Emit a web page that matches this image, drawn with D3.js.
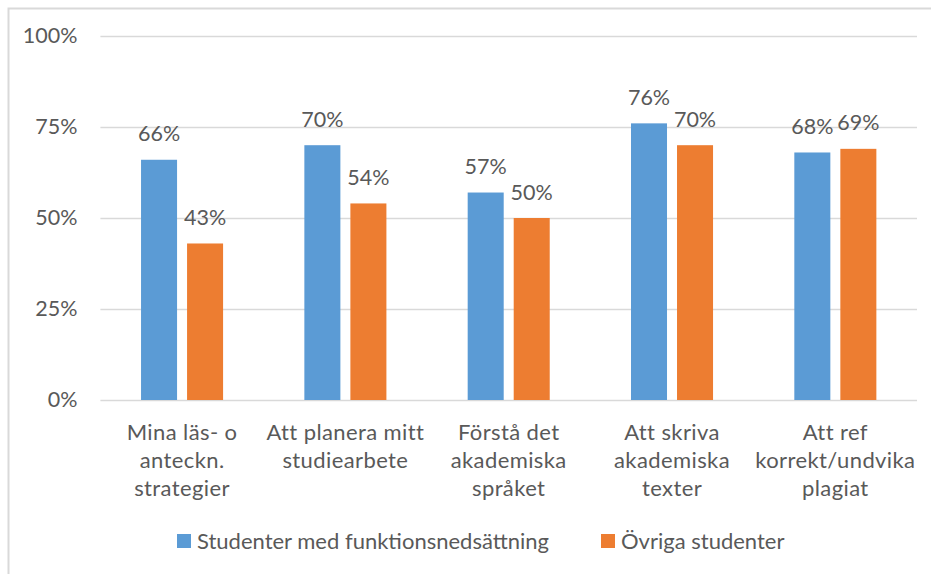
<!DOCTYPE html>
<html>
<head>
<meta charset="utf-8">
<script src="https://cdn.jsdelivr.net/npm/d3@7"></script>
<style>
  html, body { margin: 0; padding: 0; background: #fff; }
  svg { display: block; font-family: "Lato", "Open Sans", sans-serif; }
</style>
</head>
<body>
<svg id="chart" width="931" height="574"></svg>
<script>
// Kategorier (radbrytningar markerade med \n)
const categories = [
  "Mina läs- o\nanteckn.\nstrategier",
  "Att planera mitt\nstudiearbete",
  "Förstå det\nakademiska\nspråket",
  "Att skriva\nakademiska\ntexter",
  "Att ref\nkorrekt/undvika\nplagiat"
];
const seriesNames = ["Studenter med funktionsnedsättning", "Övriga studenter"];
const seriesColors = ["#5B9BD5", "#ED7D31"];
const withDisability = [0.66, 0.70, 0.57, 0.76, 0.68];
const otherStudents  = [0.43, 0.54, 0.50, 0.70, 0.69];
const yTicks = [0, 0.25, 0.5, 0.75, 1];

const svg = d3.select("#chart");
const textColor = "#595959";
const fontSize = 22;
const numSize = 21.5;

// Ram runt diagramytan
svg.append("rect")
  .attr("x", 8.5).attr("y", 8.5)
  .attr("width", 940).attr("height", 600)
  .attr("fill", "none").attr("stroke", "#d9d9d9").attr("stroke-width", 2);

const plotLeft = 100.4, plotRight = 917, plotTop = 36, plotBottom = 400;

const x = d3.scaleBand().domain(categories).range([plotLeft, plotRight]).paddingInner(0).paddingOuter(0);
const xInner = d3.scaleBand().domain(seriesNames)
  .range([0, x.bandwidth()]).paddingInner(10 / 46).paddingOuter(0.883);
const y = d3.scaleLinear().domain([0, 1]).range([plotBottom, plotTop]);

// Stödlinjer och y-axelns etiketter
const yAxis = d3.axisLeft(y).tickValues(yTicks).tickFormat(d3.format(".0%"))
  .tickSize(-(plotRight - plotLeft)).tickPadding(23);
const gy = svg.append("g").attr("transform", `translate(${plotLeft},0)`).call(yAxis);
gy.select(".domain").remove();
gy.selectAll(".tick line").attr("stroke", "#d9d9d9").attr("stroke-width", 1.5);
gy.selectAll(".tick text")
  .attr("fill", textColor).attr("font-size", numSize)
  .attr("font-family", "Lato, 'Open Sans', sans-serif");

// Staplar
const data = categories.map((c, i) => ({
  cat: c,
  vals: [
    { s: seriesNames[0], v: withDisability[i], color: seriesColors[0] },
    { s: seriesNames[1], v: otherStudents[i], color: seriesColors[1] }
  ]
}));

const groups = svg.append("g").selectAll("g").data(data).join("g")
  .attr("transform", d => `translate(${x(d.cat)},0)`);

groups.selectAll("rect").data(d => d.vals).join("rect")
  .attr("x", d => xInner(d.s))
  .attr("width", xInner.bandwidth())
  .attr("y", d => y(d.v))
  .attr("height", d => y(0) - y(d.v))
  .attr("fill", d => d.color);

// Värdeetiketter
groups.selectAll("text.val").data(d => d.vals).join("text")
  .attr("class", "val")
  .attr("x", d => xInner(d.s) + xInner.bandwidth() / 2)
  .attr("y", d => y(d.v) - 18.5)
  .attr("text-anchor", "middle")
  .attr("fill", textColor).attr("font-size", numSize)
  .text(d => d3.format(".0%")(d.v));

// Kategorietiketter
const catLabels = svg.append("g").selectAll("text").data(categories).join("text")
  .attr("x", d => x(d) + x.bandwidth() / 2)
  .attr("y", 440)
  .attr("text-anchor", "middle")
  .attr("letter-spacing", 0.4)
  .attr("fill", textColor).attr("font-size", fontSize);
catLabels.each(function(d) {
  d.split("\n").forEach((line, i) => {
    d3.select(this).append("tspan")
      .attr("x", x(d) + x.bandwidth() / 2)
      .attr("dy", i === 0 ? 0 : 28)
      .text(line);
  });
});

// Förklaring
const legendItems = [
  { name: seriesNames[0], color: seriesColors[0], x: 177 },
  { name: seriesNames[1], color: seriesColors[1], x: 601 }
];
const lg = svg.append("g").selectAll("g").data(legendItems).join("g")
  .attr("transform", d => `translate(${d.x},534)`);
lg.append("rect").attr("width", 14).attr("height", 14).attr("fill", d => d.color);
lg.append("text").attr("x", 20).attr("y", 15)
  .attr("fill", textColor).attr("font-size", fontSize)
  .text(d => d.name);
</script>
</body>
</html>
